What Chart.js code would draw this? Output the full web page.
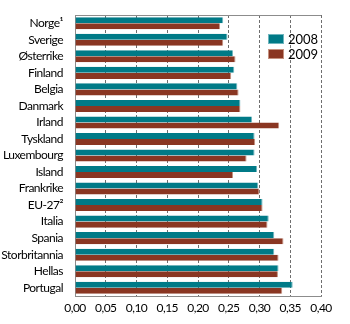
<!DOCTYPE html>
<html>
<head>
<meta charset="utf-8">
<script src="https://cdn.jsdelivr.net/npm/chart.js@4/dist/chart.umd.min.js"></script>
<style>
  html, body { margin: 0; padding: 0; background: #fff; }
  #wrap { width: 350px; height: 324px; }
</style>
</head>
<body>
<div id="wrap"><canvas id="chart" width="350" height="324"></canvas></div>
<script>
// Dados
const categories = ['Norge¹', 'Sverige', 'Østerrike', 'Finland', 'Belgia', 'Danmark', 'Irland', 'Tyskland',
  'Luxembourg', 'Island', 'Frankrike', 'EU-27²', 'Italia', 'Spania', 'Storbritannia', 'Hellas', 'Portugal'];
const values2008 = [0.241, 0.248, 0.257, 0.259, 0.264, 0.269, 0.288, 0.292, 0.292, 0.296, 0.298, 0.305, 0.315, 0.324, 0.324, 0.331, 0.354];
const values2009 = [0.236, 0.241, 0.261, 0.254, 0.266, 0.269, 0.332, 0.293, 0.279, 0.257, 0.300, 0.305, 0.313, 0.339, 0.331, 0.330, 0.337];
const seriesLabels = ['2008', '2009'];
const xTicks = [0, 0.05, 0.10, 0.15, 0.20, 0.25, 0.30, 0.35, 0.40];

const FONT = 'Lato, "Open Sans", sans-serif';
const colors = ['#007a87', '#8a3622'];
const edgeColors = ['#6fb5bd', '#c4917f'];

// Ramme øverst + legende inne i plottet
const framePlugin = {
  id: 'frame',
  beforeDraw(chart) {
    // smalere skrift for kategorinavnene
    chart.ctx.letterSpacing = '-0.5px';
  },
  afterDraw(chart) {
    const { ctx, chartArea } = chart;
    ctx.save();
    ctx.letterSpacing = '0px';
    ctx.strokeStyle = '#8c8c8c';
    ctx.lineWidth = 1;
    ctx.beginPath();
    ctx.moveTo(chartArea.left, chartArea.top + 0.5);
    ctx.lineTo(chartArea.right, chartArea.top + 0.5);
    ctx.stroke();

    // legende
    ctx.font = '13px ' + FONT;
    ctx.textBaseline = 'middle';
    seriesLabels.forEach((lab, i) => {
      const y = 34 + i * 15;
      ctx.fillStyle = colors[i];
      ctx.fillRect(268, y, 16, 10);
      ctx.strokeStyle = edgeColors[i];
      ctx.strokeRect(268.5, y + 0.5, 15, 9);
      ctx.fillStyle = '#000';
      ctx.fillText(lab, 288, y + 5.5);
    });
    ctx.restore();
  }
};

const ctx = document.getElementById('chart').getContext('2d');
new Chart(ctx, {
  type: 'bar',
  data: {
    labels: categories,
    datasets: seriesLabels.map((lab, i) => ({
      label: lab,
      data: i === 0 ? values2008 : values2009,
      backgroundColor: colors[i],
      borderColor: edgeColors[i],
      borderWidth: { top: 0, bottom: 0, left: 0, right: 1 },
      borderSkipped: 'start',
      categoryPercentage: 0.73,
      barPercentage: 1
    }))
  },
  options: {
    indexAxis: 'y',
    responsive: false,
    animation: false,
    layout: { padding: { top: 15, right: 29, left: 0, bottom: 0 } },
    plugins: { legend: { display: false }, tooltip: { enabled: false } },
    scales: {
      x: {
        min: 0,
        max: 0.4,
        afterBuildTicks: axis => { axis.ticks = xTicks.map(v => ({ value: v })); },
        afterFit: axis => { axis.height = 28; },
        grid: {
          color: ctx => ctx.tick && ctx.tick.value === 0 ? 'rgba(0,0,0,0)' : '#6e6e6e',
          lineWidth: 1,
          drawTicks: false
        },
        border: { display: true, color: '#8c8c8c', dash: [3, 2] },
        ticks: {
          font: { family: FONT, size: 12 },
          color: '#000',
          padding: 5,
          maxRotation: 0,
          callback: v => v.toFixed(2).replace('.', ',')
        }
      },
      y: {
        afterFit: axis => { axis.width = 75; },
        border: { display: true, color: '#8c8c8c' },
        grid: { display: false },
        ticks: {
          font: { family: FONT, size: 12 },
          color: '#000',
          padding: 4,
          autoSkip: false
        }
      }
    }
  },
  plugins: [framePlugin]
});
</script>
</body>
</html>
